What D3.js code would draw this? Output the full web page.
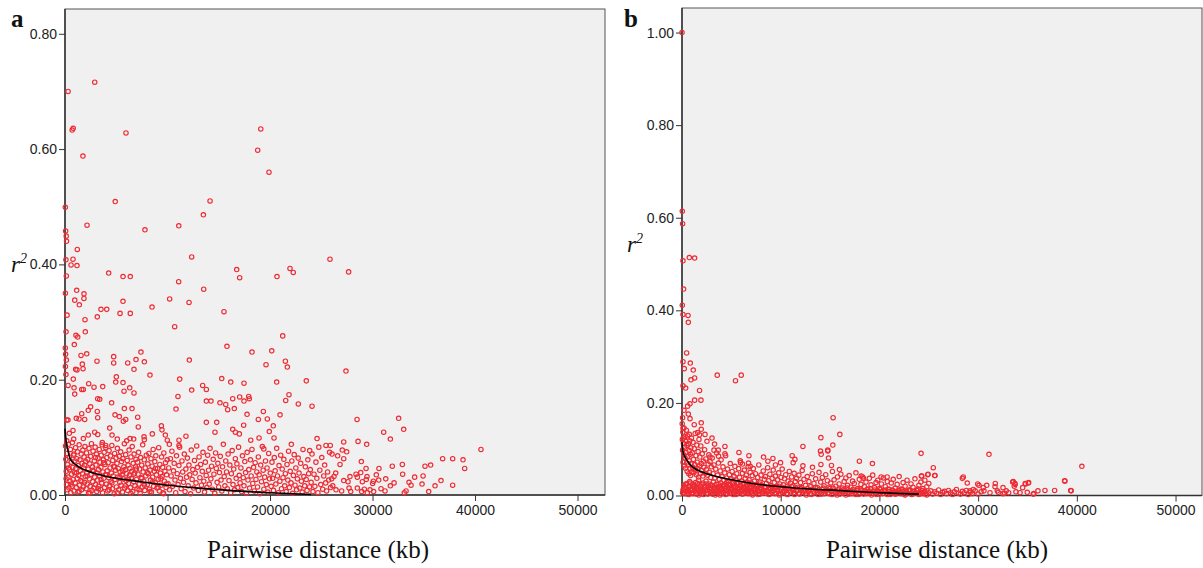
<!DOCTYPE html>
<html>
<head>
<meta charset="utf-8">
<script src="https://cdnjs.cloudflare.com/ajax/libs/d3/7.8.5/d3.min.js"></script>
<style>
  body { margin: 0; background: #fff; }
  .tick text { font-family: "Liberation Sans", Arial, sans-serif; font-size: 14px; fill: #222; }
  .tick line { stroke: #333; }
  .domain { display: none; }
  .serif { font-family: "Liberation Serif", "Times New Roman", serif; fill: #111; }
</style>
</head>
<body>
<div id="chart"></div>
<script>
// ---- data: [distance kb, r2] ----
const xTicks = [0, 10000, 20000, 30000, 40000, 50000];
const yTicksA = [0, 0.2, 0.4, 0.6, 0.8];
const yTicksB = [0, 0.2, 0.4, 0.6, 0.8, 1.0];

// panel a - sparse upper points
const outliersA = [[30,.499],[300,.70],[2900,.716],[700,.633],[800,.636],[5950,.628],[1750,.588],[19100,.635],[18800,.598],[19900,.56],
  [4900,.509],[14150,.51],[13500,.486],[11100,.467],[7800,.46],[2150,.468],[12360,.413],[25850,.409],[16750,.391],[17040,.377],
  [21950,.393],[22270,.386],[20680,.379],[4260,.385],[5660,.379],[6370,.379],[11090,.37],[13530,.357],[10210,.34],[12100,.334],
  [15510,.318],[8490,.326],[5660,.336],[6370,.315],[5370,.315],[3510,.322],[4070,.322],[3150,.309],[10700,.292],[15800,.258],
  [21240,.276],[18240,.248],[20170,.25],[19610,.226],[21500,.232],[21690,.222],[23540,.198],[20650,.196],[17460,.194],[16170,.196],
  [15290,.202],[12130,.234],[11190,.201],[12360,.182],[13430,.19],[13790,.183],[11020,.171],[10830,.149],[7410,.248],[7740,.231],
  [6930,.235],[8290,.208],[6730,.218],[6120,.229],[4750,.24],[4750,.229],[5010,.205],[4950,.196],[5660,.195],[5760,.18],
  [6310,.186],[6730,.177],[3680,.188],[2830,.187],[2310,.193],[1790,.183],[3120,.232],[2120,.245],[1560,.242],[1690,.227],
  [1760,.219],[910,.261],[1980,.283],[1950,.304],[1850,.349],[1850,.341],[1140,.355],[950,.338],[1400,.33],[1200,.426],
  [780,.409],[590,.399],[1170,.398],[150,.44],[120,.449],[60,.458],[90,.408],[130,.38],[40,.35],[200,.312],[100,.283],
  [30,.255],[60,.244],[130,.234],[40,.223],[300,.19],[90,.209],[1070,.277],[1240,.274],[1040,.218],[1170,.217],[810,.201],
  [880,.186],[950,.175],[1630,.183],[3190,.167],[3390,.166],[4550,.16],[5790,.15],[6540,.15],[4880,.139],[5300,.136],
  [5920,.131],[5690,.128],[7150,.118],[7090,.135],[2270,.147],[2500,.153],[3150,.145],[3190,.134],[1630,.141],[1920,.131],
  [1100,.133],[1370,.132],[170,.13],[290,.13],[9400,.12],[9790,.104],[9460,.113],[13790,.163],[14240,.163],[15120,.16],
  [15680,.157],[15870,.148],[16360,.167],[17040,.17],[17460,.163],[17920,.171],[17980,.167],[16520,.15],[17760,.14],[18860,.131],
  [19350,.145],[19740,.132],[20320,.12],[20980,.139],[21530,.164],[21850,.174],[22760,.158],[24100,.154],[24590,.098],[25460,.086],
  [25880,.086],[13790,.126],[14800,.126],[17430,.121],[14630,.109],[16360,.114],[16620,.109],[17010,.106],[18120,.095],[18930,.099],
  [19930,.11],[20390,.099],[22080,.088],[23870,.077],[19390,.08],[11800,.102],[11120,.095],[11120,.086],[9980,.095],[10180,.088],
  [8520,.106],[7710,.101],[7740,.096],[6340,.098],[6700,.097],[5100,.097],[6020,.094],[3640,.091],[3970,.086],[4590,.104],
  [4360,.116],[2900,.109],[3190,.105],[2270,.104],[1790,.098],[850,.097],[780,.112],[420,.107],[170,.094],
  [27670,.387],[27410,.215],[28490,.131],[32550,.133],[33040,.114],[31090,.109],[31740,.097],[27190,.092],[28590,.093],[29430,.088],
  [27050,.078],[27480,.075],[27190,.063],[26050,.071],[26600,.068],[26830,.053],[28910,.058],[29370,.046],[30630,.046],[31930,.05],
  [32910,.053],[32940,.036],[35120,.05],[35670,.052],[36840,.063],[37820,.063],[38830,.061],[38990,.046],[40580,.079],[37820,.017],
  [36680,.025],[36100,.016],[35480,.006],[34830,.019],[34930,.033],[34110,.031],[33560,.022],[33760,.017],[33270,.007],[33100,.004],
  [32100,.021],[31740,.016],[31290,.028],[31220,.007],[30830,.011],[30600,.026],[30370,.035],[30080,.024],[30110,.006],[29760,.009],
  [29460,.032],[29390,.027],[29010,.023],[28850,.039],[28390,.036],[28520,.031],[27800,.032],[27610,.023],[27190,.025],[26410,.038],
  [26240,.032],[26020,.028],[26120,.016],[26440,.009],[26990,.007],[27710,.012],[27870,.006],[28520,.012],[28940,.006],[29200,.01],
  [29490,.004],[30010,.02]];

// panel a - dense band near the axis
const denseA = [[50,.085],[80,.062],[120,.041],[150,.018],[200,.072],[220,.009],[260,.053],[300,.031],[340,.088],[380,.012],
  [420,.066],[450,.044],[500,.024],[530,.079],[570,.004],[600,.057],[640,.036],[680,.015],[720,.091],[760,.048],[800,.027],
  [840,.069],[880,.007],[920,.039],[960,.059],[990,.021],[1030,.082],[1060,.046],[1100,.013],[1140,.063],[1180,.029],[1220,.075],
  [1260,.005],[1300,.051],[1340,.034],[1380,.087],[1420,.017],[1460,.061],[1500,.042],[1540,.025],[1580,.071],[1620,.009],
  [1660,.055],[1700,.037],[1740,.078],[1780,.014],[1820,.047],[1860,.066],[1900,.022],[1940,.084],[1980,.032],[2020,.058],
  [2060,.011],[2100,.073],[2140,.039],[2180,.019],[2220,.062],[2260,.045],[2300,.003],[2340,.081],[2380,.028],[2420,.054],
  [2460,.015],[2500,.067],[2540,.036],[2580,.089],[2620,.008],[2660,.049],[2700,.023],[2740,.076],[2780,.041],[2820,.012],
  [2860,.059],[2900,.031],[2940,.083],[2980,.018],[3020,.052],[3060,.071],[3100,.006],[3140,.038],[3180,.026],[3220,.064],
  [3260,.044],[3300,.015],[3340,.079],[3380,.033],[3420,.057],[3460,.01],[3500,.048],[3540,.069],[3580,.021],[3620,.087],
  [3660,.004],[3700,.04],[3740,.061],[3780,.029],[3820,.074],[3860,.013],[3900,.053],[3940,.035],[3980,.082],[4030,.019],
  [4080,.065],[4120,.042],[4170,.007],[4210,.056],[4260,.03],[4300,.077],[4350,.016],[4390,.047],[4440,.068],[4480,.024],
  [4530,.038],[4570,.086],[4620,.011],[4660,.06],[4710,.033],[4750,.05],[4800,.002],[4840,.072],[4890,.027],[4930,.043],
  [4980,.064],[5020,.014],[5070,.055],[5110,.081],[5160,.031],[5200,.046],[5250,.009],[5290,.067],[5340,.022],[5380,.04],
  [5430,.075],[5470,.017],[5520,.058],[5560,.035],[5610,.005],[5650,.063],[5700,.028],[5740,.049],[5790,.089],[5830,.012],
  [5880,.044],[5920,.07],[5970,.025],[6020,.037],[6070,.06],[6110,.008],[6160,.052],[6200,.02],[6250,.078],[6290,.034],
  [6340,.046],[6380,.013],[6430,.066],[6470,.029],[6520,.041],[6560,.084],[6610,.006],[6650,.055],[6700,.023],[6740,.071],
  [6790,.038],[6830,.016],[6880,.049],[6920,.062],[6970,.027],[7030,.011],[7080,.057],[7130,.036],[7180,.074],[7230,.019],
  [7280,.045],[7330,.003],[7380,.065],[7430,.03],[7480,.052],[7530,.014],[7580,.087],[7630,.04],[7680,.024],[7730,.061],
  [7780,.008],[7830,.047],[7880,.033],[7930,.069],[8030,.018],[8080,.054],[8130,.037],[8180,.072],[8240,.01],[8290,.043],
  [8340,.026],[8390,.063],[8440,.005],[8500,.05],[8550,.031],[8600,.079],[8650,.015],[8710,.041],[8760,.058],[8810,.022],
  [8860,.068],[8920,.035],[8970,.012],[9030,.046],[9090,.027],[9140,.082],[9200,.007],[9250,.053],[9310,.038],[9360,.017],
  [9420,.066],[9470,.032],[9530,.048],[9580,.004],[9640,.073],[9690,.024],[9750,.041],[9800,.056],[9860,.013],[9910,.035],
  [9970,.061],[10050,.02],[10120,.047],[10200,.009],[10280,.063],[10350,.033],[10430,.076],[10500,.015],[10580,.042],[10650,.055],
  [10730,.026],[10800,.004],[10880,.068],[10950,.037],[11030,.018],[11110,.051],[11180,.083],[11260,.029],[11330,.011],[11410,.059],
  [11480,.04],[11560,.022],[11640,.071],[11710,.006],[11790,.045],[11860,.031],[11940,.064],[12020,.016],[12090,.052],[12170,.035],
  [12250,.002],[12320,.078],[12400,.027],[12470,.044],[12550,.012],[12630,.06],[12700,.038],[12780,.021],[12850,.085],[12930,.048],
  [13010,.008],[13080,.066],[13160,.03],[13230,.053],[13310,.017],[13390,.041],[13460,.074],[13540,.024],[13610,.005],[13690,.057],
  [13770,.034],[13840,.013],[13920,.069],[14000,.043],[14070,.019],[14150,.081],[14230,.028],[14300,.05],[14380,.01],[14460,.062],
  [14530,.036],[14610,.003],[14690,.073],[14760,.046],[14840,.022],[14910,.055],[14990,.014],[15070,.039],[15150,.067],[15220,.026],
  [15300,.007],[15370,.049],[15450,.088],[15530,.032],[15600,.016],[15680,.059],[15760,.04],[15830,.011],[15910,.071],[16000,.025],
  [16080,.052],[16160,.004],[16230,.037],[16310,.077],[16390,.018],[16460,.045],[16540,.009],[16620,.063],[16700,.029],[16770,.054],
  [16850,.013],[16930,.083],[17000,.034],[17080,.021],[17160,.047],[17230,.006],[17310,.068],[17390,.03],[17460,.016],[17540,.058],
  [17620,.039],[17700,.003],[17770,.074],[17850,.026],[17930,.044],[18010,.012],[18090,.061],[18160,.033],[18240,.079],[18320,.02],
  [18400,.048],[18470,.007],[18550,.056],[18630,.027],[18710,.04],[18780,.014],[18860,.066],[18940,.035],[19010,.002],[19090,.052],
  [19170,.023],[19250,.084],[19330,.043],[19400,.01],[19480,.031],[19560,.059],[19640,.018],[19710,.047],[19790,.005],[19870,.072],
  [19950,.028],[20030,.038],[20110,.015],[20190,.057],[20260,.029],[20340,.008],[20420,.065],[20500,.042],[20570,.019],[20650,.081],
  [20730,.033],[20810,.004],[20880,.051],[20960,.024],[21040,.069],[21120,.011],[21190,.045],[21270,.03],[21350,.062],[21430,.016],
  [21500,.037],[21580,.006],[21660,.053],[21740,.026],[21810,.076],[21890,.013],[21970,.041],[22050,.021],[22130,.059],[22200,.003],
  [22280,.034],[22360,.07],[22440,.017],[22520,.047],[22590,.009],[22670,.028],[22750,.064],[22830,.038],[22910,.012],[22990,.055],
  [23060,.024],[23140,.005],[23220,.079],[23300,.032],[23380,.016],[23450,.049],[23530,.027],[23610,.008],[23690,.061],[23770,.037],
  [23850,.014],[23930,.044],[24010,.022],[24100,.071],[24190,.006],[24290,.036],[24380,.015],[24480,.057],[24570,.029],[24670,.004],
  [24760,.083],[24860,.043],[24950,.018],[25050,.065],[25140,.01],[25240,.033],[25330,.052],[25430,.021],[25520,.007],[25620,.04],
  [25720,.026],[25810,.074],[25910,.013],
  [110,.028],[350,.047],[610,.019],[870,.071],[1120,.038],[1390,.006],[1650,.023],[1910,.052],[2170,.033],[2440,.004],
  [2710,.043],[2970,.065],[3240,.011],[3510,.027],[3770,.056],[4040,.035],[4310,.009],[4570,.021],[4840,.049],[5100,.004],
  [5370,.031],[5640,.042],[5900,.016],[6170,.027],[6430,.003],[6700,.036],[6960,.045],[7230,.009],[7500,.029],[7760,.017],
  [8030,.039],[8290,.006],[8560,.023],[8830,.046],[9090,.013],[9360,.028],[9620,.002],[9890,.019]];

// panel a fitted decay curve
const curveA = [[0,.115],[100,.095],[300,.076],[500,.063],[1000,.053],[2000,.043],[3000,.037],[5000,.029],[7000,.024],
  [10000,.017],[13000,.012],[16000,.008],[20000,.004],[24000,.001]];

// panel b - sparse upper points
const outliersB = [[0,1.0],[30,.614],[60,.587],[740,.514],[1280,.513],[100,.507],[160,.446],[30,.411],[100,.391],[610,.389],
  [640,.374],[470,.308],[100,.289],[840,.286],[230,.274],[1140,.271],[910,.25],[1280,.254],[3570,.26],[6000,.26],[5420,.248],
  [100,.237],[370,.232],[1780,.227],[1920,.206],[1280,.206],[810,.198],[570,.193],[200,.184],[640,.176],[60,.168],[810,.166],
  [1240,.153],[1950,.157],[1950,.143],[1580,.136],[1780,.131],[2330,.132],[100,.145],[130,.124],[740,.132],[3040,.124],
  [3300,.111],[4350,.106],[3240,.098],[3670,.098],[4350,.09],[3700,.085],[2830,.083],[5770,.093],[6780,.086],[8260,.083],
  [9210,.08],[8700,.074],[5900,.075],[6130,.068],[6740,.07],[6910,.063],[9980,.071],[9470,.066],[11160,.086],[11440,.078],
  [11260,.071],[12250,.106],[13220,.061],[14070,.125],[14030,.096],[14100,.089],[14070,.067],[14770,.098],[14770,.096],[14840,.081],
  [15310,.168],[15280,.109],[15140,.065],[15990,.132],[15950,.056],[12250,.064],[17970,.074],[19290,.069],[24220,.091],[25460,.06],
  [18150,.042],[18380,.037],[20170,.04],[20780,.04],[24290,.042],[24930,.046],[25600,.043],
  [31100,.089],[40510,.063],[25630,.043],[28500,.04],[28400,.037],[28900,.027],[29960,.025],[30090,.022],[30870,.022],[31740,.026],
  [31710,.019],[32520,.017],[33500,.029],[33730,.026],[33660,.02],[34810,.025],[35120,.028],[34510,.017],[38790,.031],[39430,.01],
  [37750,.011],[36770,.011],[36060,.01],[35580,.003],[34980,.007],[33830,.008],[34240,.006],[32850,.01],[33090,.006],[31940,.01],
  [32040,.007],[31200,.006],[30520,.017],[30590,.01],[29510,.013],[29180,.01],[24890,.045],[24250,.042],[38760,.032],[39370,.011],
  [35080,.027],[34770,.026],[33560,.03],[33760,.024],[35650,.004],[32690,.005],[32530,.004]];

// panel b - dense band near the axis
const denseB = [[20,.155],[40,.121],[60,.098],[90,.137],[110,.072],[140,.113],[170,.088],[200,.146],[230,.064],[260,.104],
  [290,.127],[320,.081],[350,.059],[380,.117],[410,.093],[440,.141],[470,.07],[500,.108],[530,.052],[560,.129],[590,.085],
  [620,.066],[650,.112],[690,.047],[720,.097],[750,.075],[780,.118],[810,.058],[840,.089],[870,.043],[900,.103],[930,.069],
  [960,.124],[990,.051],[1040,.092],[1080,.061],[1120,.115],[1160,.078],[1200,.049],[1240,.101],[1290,.067],[1330,.134],
  [1370,.055],[1410,.086],[1460,.045],[1500,.109],[1540,.072],[1590,.058],[1630,.095],[1680,.04],[1720,.121],[1770,.064],
  [1810,.083],[1860,.047],[1900,.107],[1950,.069],[1990,.054],[2050,.09],[2110,.042],[2170,.074],[2230,.061],[2290,.099],
  [2350,.048],[2410,.079],[2470,.056],[2530,.117],[2590,.044],[2650,.068],[2720,.088],[2780,.05],[2840,.073],[2900,.039],
  [2970,.062],[3060,.081],[3150,.047],[3240,.066],[3330,.038],[3420,.057],[3510,.092],[3600,.044],[3690,.07],[3780,.035],
  [3870,.053],[3960,.077],[4050,.041],[4150,.062],[4240,.033],[4330,.049],[4420,.086],[4520,.038],[4610,.057],[4700,.03],
  [4800,.045],[4890,.069],[4980,.036],[5080,.052],[5170,.028],[5260,.041],[5360,.063],[5450,.034],[5550,.047],[5640,.025],
  [5740,.058],[5830,.039],[5930,.071],[6030,.031],[6120,.048],[6220,.026],[6320,.055],[6410,.037],[6510,.044],[6610,.029],
  [6700,.062],[6800,.034],[6900,.05],[7010,.027],[7120,.043],[7230,.058],[7340,.031],[7450,.047],[7560,.024],[7670,.039],
  [7780,.066],[7890,.029],[8000,.044],[8120,.022],[8230,.053],[8340,.035],[8450,.041],[8560,.026],[8680,.06],[8790,.032],
  [8900,.046],[9010,.021],[9130,.037],[9240,.055],[9350,.028],[9460,.042],[9580,.02],[9690,.034],[9800,.049],[9910,.025],
  [10030,.039],[10150,.057],[10270,.023],[10390,.036],[10510,.045],[10630,.019],[10750,.031],[10870,.052],[10990,.027],[11110,.04],
  [11240,.021],[11360,.048],[11480,.03],[11600,.037],[11720,.018],[11840,.044],[12010,.028],[12180,.054],[12350,.035],[12520,.022],
  [12690,.041],[12860,.03],[13030,.019],[13200,.047],[13370,.026],[13540,.036],[13710,.017],[13880,.05],[14050,.029],[14220,.039],
  [14390,.021],[14560,.045],[14730,.032],[14900,.018],[15070,.027],[15240,.052],[15410,.034],[15580,.02],[15750,.04],[15920,.025],
  [16090,.046],[16260,.016],[16430,.03],[16600,.038],[16770,.022],[16940,.043],[17110,.018],[17280,.031],[17450,.026],[17620,.049],
  [17790,.015],[17960,.035],[18130,.024],[18300,.04],[18470,.019],[18640,.029],[18810,.014],[18980,.037],[19150,.023],[19320,.044],
  [19490,.017],[19660,.028],[19830,.033],[20000,.015],[20200,.025],[20400,.038],[20600,.019],[20800,.03],[21000,.013],[21200,.027],
  [21400,.035],[21600,.016],[21800,.024],[22000,.041],[22200,.014],[22400,.028],[22600,.02],[22800,.033],[23000,.012],[23200,.025],
  [23400,.018],[23600,.036],[23800,.011],[24000,.022],[24200,.029],[24400,.015],[24600,.033],[24800,.019],[25000,.026]];

// panel b - the near-solid band at r2 below ~0.03
const floorB = [[100,.012],[250,.004],[400,.017],[550,.008],[700,.002],[850,.014],[1000,.006],[1150,.019],[1300,.01],[1450,.003],[1600,.015],
  [1750,.007],[1900,.018],[2050,.011],[2200,.002],[2350,.013],[2500,.005],[2650,.02],[2800,.009],[2950,.016],[3100,.003],
  [3250,.012],[3400,.007],[3550,.018],[3700,.01],[3850,.001],[4000,.014],[4150,.006],[4300,.019],[4450,.011],[4600,.004],
  [4750,.016],[4900,.008],[5050,.013],[5200,.002],[5350,.017],[5500,.009],[5650,.005],[5800,.015],[5950,.011],[6100,.003],
  [6250,.018],[6400,.007],[6550,.012],[6700,.004],[6850,.016],[7000,.009],[7150,.001],[7300,.014],[7450,.006],[7600,.019],
  [7750,.01],[7900,.003],[8050,.013],[8200,.008],[8350,.017],[8500,.005],[8650,.011],[8800,.002],[8950,.015],[9100,.007],
  [9250,.012],[9400,.004],[9550,.018],[9700,.009],[9850,.001],[10000,.014],[10200,.006],[10400,.011],[10600,.003],[10800,.016],
  [11000,.008],[11200,.013],[11400,.002],[11600,.01],[11800,.005],[12000,.015],[12200,.007],[12400,.012],[12600,.001],[12800,.009],
  [13000,.004],[13200,.014],[13400,.006],[13600,.011],[13800,.002],[14000,.008],[14200,.013],[14400,.004],[14600,.01],[14800,.006],
  [15000,.015],[15200,.002],[15400,.009],[15600,.005],[15800,.012],[16000,.003],[16200,.008],[16400,.013],[16600,.001],[16800,.007],
  [17000,.011],[17200,.004],[17400,.009],[17600,.002],[17800,.012],[18000,.006],[18200,.01],[18400,.003],[18600,.008],[18800,.013],
  [19000,.005],[19200,.001],[19400,.009],[19600,.006],[19800,.011],[20000,.003],[20200,.008],[20400,.005],[20600,.012],[20800,.002],
  [21000,.009],[21200,.006],[21400,.01],[21600,.003],[21800,.007],[22000,.012],[22200,.004],[22400,.009],[22600,.001],[22800,.006],
  [23000,.01],[23200,.003],[23400,.008],[23600,.005],[23800,.011],[24000,.002],[24200,.007],[24400,.004],[24600,.009],[24800,.001],
  [25000,.006],[25200,.01],[25400,.003],[25600,.008],[25800,.005],[26000,.012],[26200,.002],[26400,.007],[26600,.009],[26800,.004],
  [27000,.011],[27200,.006],[27400,.002],[27600,.008],[27800,.013],[28000,.005],[28200,.003],[28400,.009],[28600,.006],[28800,.011],
  [29000,.002],[29200,.007],[29400,.004],[29700,.01],[30000,.003],[30300,.008],
  [180,.022],[330,.009],[480,.026],[630,.013],[780,.03],[930,.005],[1080,.024],[1230,.016],[1380,.028],[1530,.011],[1680,.033],
  [1830,.021],[1980,.004],[2130,.027],[2280,.017],[2430,.031],[2580,.012],[2730,.025],[2880,.006],[3030,.022],[3180,.029],
  [3330,.014],[3480,.024],[3630,.005],[3780,.02],[3930,.027],[4080,.01],[4230,.023],[4380,.016],[4530,.028],[4680,.009],
  [4830,.021],[4980,.013],[5130,.025],[5280,.006],[5430,.019],[5580,.027],[5730,.012],[5880,.022],[6030,.008],[6180,.024],
  [6330,.015],[6480,.02],[6630,.011],[6780,.026],[6930,.006],[7080,.018],[7230,.023],[7380,.013],[7530,.021],[7680,.008],
  [7830,.025],[7980,.016],
  [60,.006],[210,.016],[370,.024],[520,.003],[670,.019],[820,.027],[970,.011],[1120,.004],[1270,.022],[1420,.015],[1570,.026],
  [1720,.001],[1870,.012],[2020,.023],[2170,.008],[2320,.019],[2470,.025],[2620,.003],[2770,.014],[2920,.022],[3070,.009],
  [3220,.018],[3370,.001],[3520,.011],[3670,.025],[3820,.015],[3970,.004],[4120,.021],[4270,.012],[4420,.002],[4570,.018],
  [4720,.024],[4870,.005],[5020,.017],[5170,.01],[5320,.023],[5470,.002],[5620,.015],[5770,.008],[5920,.02],[6070,.013],
  [6220,.004],[6370,.017],[6520,.022],[6670,.007],[6820,.012],[6970,.019],[7120,.004],[7270,.016],[7420,.01],[7570,.022],
  [7720,.002],[7870,.014],[8020,.021],[8170,.005],[8320,.011],[8470,.019],[8620,.008],[8770,.016],[8920,.003],[9070,.021],
  [9220,.01],[9370,.017],[9520,.006],[9670,.013],[9820,.02],[9970,.004],[10110,.018],[10310,.009],[10510,.015],[10710,.002],
  [10910,.012],[11110,.019],[11310,.006],[11510,.016],[11710,.011],[11910,.003],[12110,.017],[12310,.01],[12510,.005],[12710,.015],
  [12910,.012],[13110,.002],[13310,.009],[13510,.017],[13710,.007],[13910,.013],[14110,.003],[14310,.016],[14510,.008],[14710,.012],
  [14910,.004],[15110,.01],[15310,.016],[15510,.006],[15710,.001],[15910,.014],[16110,.009],[16310,.005],[16510,.012],[16710,.016],
  [16910,.003],[17110,.008],[17310,.013],[17510,.006],[17710,.01],[17910,.002],[18110,.014],[18310,.007],[18510,.011],[18710,.004],
  [18910,.009],[19110,.015],[19310,.005],[19510,.012],[19710,.002],[19910,.008],[20110,.013],[20310,.004],[20510,.009],[20710,.006],
  [20910,.014],[21110,.002],[21310,.012],[21510,.007],[21710,.004],[21910,.01],[22110,.006],[22310,.013],[22510,.003],[22710,.009],
  [22910,.005],[23110,.012],[23310,.002],[23510,.009],[23710,.006],[23910,.014],[24110,.004],[24310,.011],[24510,.007],[24710,.003]];

// panel b fitted decay curve
const curveB = [[0,.115],[100,.095],[300,.083],[500,.076],[1000,.063],[2100,.05],[3500,.041],[5600,.032],[7500,.025],
  [10000,.019],[13000,.014],[15700,.011],[19000,.007],[22400,.004],[24000,.003]];

// ---- layout ----
const W = 1203, H = 568;
const svg = d3.select("#chart").append("svg")
  .attr("width", W).attr("height", H)
  .style("background", "#fff");

function panel(opts) {
  const { left, right, top, bottom, yMax, yTicks, points, curve, letter, letterX, rX, rY, titleX } = opts;

  const x = d3.scaleLinear().domain([0, 52680]).range([left, right]);
  const y = d3.scaleLinear().domain([0, yMax]).range([bottom, top]);

  // plot background + frame
  svg.append("rect")
    .attr("x", left).attr("y", top)
    .attr("width", right - left).attr("height", bottom - top)
    .attr("fill", "#f0f0f0")
    .attr("stroke", "#555").attr("stroke-width", 1);

  svg.append("g")
    .attr("transform", "translate(" + left + ",0)")
    .call(d3.axisLeft(y).tickValues(yTicks).tickFormat(d3.format(".2f")).tickSize(6).tickPadding(2));

  svg.append("g")
    .attr("transform", "translate(0," + bottom + ")")
    .call(d3.axisBottom(x).tickValues(xTicks).tickFormat(d3.format("d")).tickSize(6).tickPadding(4));

  // axis lines on top of frame, a bit darker
  svg.append("line").attr("x1", left).attr("x2", left).attr("y1", top).attr("y2", bottom)
    .attr("stroke", "#333").attr("stroke-width", 1.5);
  svg.append("line").attr("x1", left).attr("x2", right).attr("y1", bottom).attr("y2", bottom)
    .attr("stroke", "#333").attr("stroke-width", 1.5);

  svg.append("g").selectAll("circle")
    .data(points)
    .enter().append("circle")
      .attr("cx", d => x(d[0]))
      .attr("cy", d => y(d[1]))
      .attr("r", 2.2)
      .attr("fill", "none")
      .attr("stroke", "#ee2a33")
      .attr("stroke-width", 1.15);

  svg.append("path")
    .datum(curve)
    .attr("fill", "none")
    .attr("stroke", "#000")
    .attr("stroke-width", 1.6)
    .attr("d", d3.line().x(d => x(d[0])).y(d => y(d[1])).curve(d3.curveMonotoneX));

  // panel letter
  svg.append("text").attr("class", "serif")
    .attr("x", letterX).attr("y", 27)
    .style("font-weight", "bold").style("font-size", "25px")
    .text(letter);

  // y title r2
  const rt = svg.append("text").attr("class", "serif")
    .attr("x", rX).attr("y", rY)
    .style("font-style", "italic").style("font-size", "23px");
  rt.append("tspan").text("r");
  rt.append("tspan").style("font-size", "14px").attr("dy", -9).text("2");

  // x title
  svg.append("text").attr("class", "serif")
    .attr("x", titleX).attr("y", 558)
    .attr("text-anchor", "middle")
    .style("font-size", "25px")
    .text("Pairwise distance (kb)");
}

panel({ left: 65, right: 605, top: 9, bottom: 495, yMax: 0.843, yTicks: yTicksA,
  points: denseA.concat(outliersA), curve: curveA, letter: "a", letterX: 11, rX: 11, rY: 272, titleX: 318 });

panel({ left: 682, right: 1202, top: 8, bottom: 495.5, yMax: 1.053, yTicks: yTicksB,
  points: floorB.concat(denseB, outliersB), curve: curveB, letter: "b", letterX: 624, rX: 627, rY: 252, titleX: 937 });
</script>
</body>
</html>
